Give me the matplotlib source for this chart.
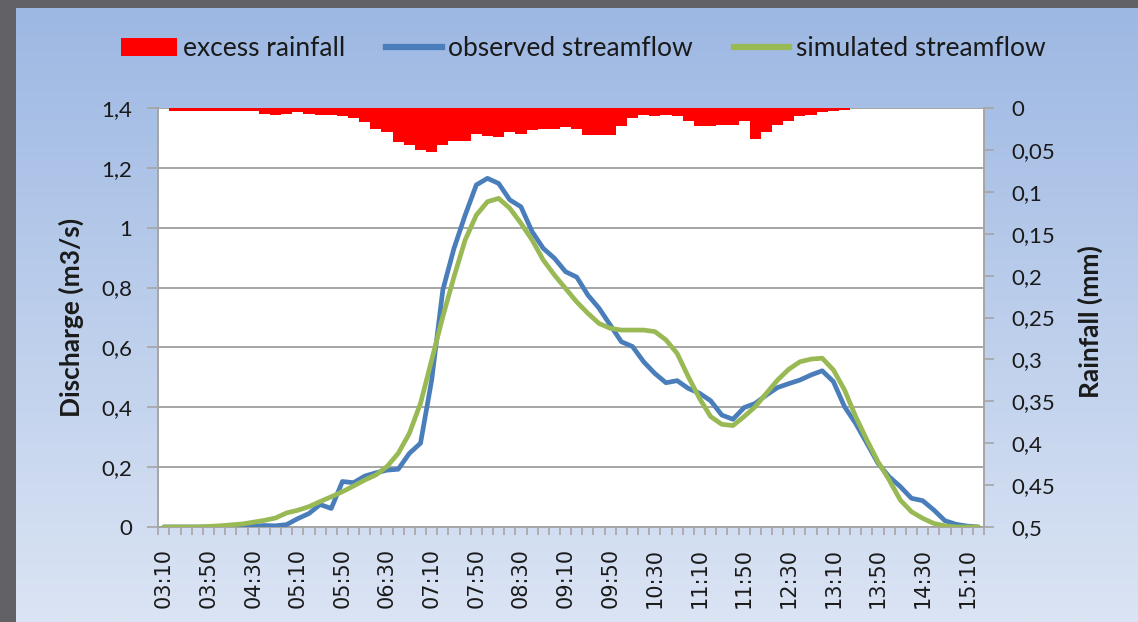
import numpy as np
import pandas as pd
import matplotlib
matplotlib.use('Agg')
import matplotlib.pyplot as plt
from matplotlib.patches import Patch
from matplotlib.lines import Line2D

# Data (10 minute steps from 03:10)
times = pd.date_range('2000-01-01 03:10', periods=74, freq='10min').strftime('%H:%M').tolist()

observed = [0, 0, 0, 0, 0, 0, 0, 0.002, 0.003, 0.005,
            0.004, 0.008, 0.028, 0.045, 0.075, 0.062, 0.152, 0.148, 0.170, 0.181,
            0.190, 0.193, 0.246, 0.280, 0.491, 0.792, 0.931, 1.042, 1.143, 1.165,
            1.148, 1.093, 1.070, 0.987, 0.931, 0.898, 0.853, 0.835, 0.775, 0.731,
            0.675, 0.619, 0.603, 0.552, 0.513, 0.482, 0.489, 0.463, 0.447, 0.422,
            0.374, 0.360, 0.399, 0.413, 0.441, 0.466, 0.479, 0.491, 0.508, 0.522,
            0.486, 0.402, 0.346, 0.280, 0.213, 0.168, 0.135, 0.096, 0.088, 0.057,
            0.021, 0.009, 0.003, 0]

simulated = [0, 0, 0, 0, 0.002, 0.004, 0.007, 0.010, 0.016, 0.022,
             0.030, 0.047, 0.056, 0.068, 0.085, 0.101, 0.118, 0.137, 0.157, 0.174,
             0.202, 0.246, 0.313, 0.413, 0.558, 0.703, 0.836, 0.959, 1.042, 1.087,
             1.098, 1.065, 1.015, 0.959, 0.892, 0.842, 0.797, 0.752, 0.714, 0.680,
             0.664, 0.658, 0.658, 0.658, 0.653, 0.625, 0.580, 0.502, 0.430, 0.369,
             0.343, 0.339, 0.369, 0.402, 0.447, 0.491, 0.527, 0.552, 0.561, 0.564,
             0.525, 0.458, 0.369, 0.291, 0.218, 0.157, 0.090, 0.051, 0.029, 0.012,
             0.004, 0, 0, 0]

rainfall = [0, 0.003, 0.003, 0.003, 0.003, 0.003, 0.003, 0.003, 0.003, 0.007,
            0.008, 0.007, 0.005, 0.007, 0.008, 0.008, 0.010, 0.012, 0.017, 0.025,
            0.029, 0.041, 0.044, 0.050, 0.053, 0.044, 0.039, 0.039, 0.031, 0.034,
            0.035, 0.029, 0.031, 0.026, 0.025, 0.025, 0.023, 0.025, 0.032, 0.032,
            0.032, 0.022, 0.012, 0.008, 0.0095, 0.008, 0.0095, 0.016, 0.022, 0.022,
            0.020, 0.020, 0.015, 0.037, 0.029, 0.020, 0.015, 0.010, 0.008, 0.005,
            0.003, 0.002, 0, 0, 0, 0, 0, 0, 0, 0,
            0, 0, 0, 0]

q_ticks = [0, 0.2, 0.4, 0.6, 0.8, 1.0, 1.2, 1.4]
q_labels = ['0', '0,2', '0,4', '0,6', '0,8', '1', '1,2', '1,4']
r_ticks = [0, 0.05, 0.1, 0.15, 0.2, 0.25, 0.3, 0.35, 0.4, 0.45, 0.5]
r_labels = ['0', '0,05', '0,1', '0,15', '0,2', '0,25', '0,3', '0,35', '0,4', '0,45', '0,5']

# Colours
blue = '#4A7EBB'
green = '#98B954'
red = '#FF0000'
grid_grey = '#A5A5A5'
txt = '#1A1A1A'
ui_font = ['Lato', 'DejaVu Sans']

# Figure and slide-like background
fig = plt.figure(figsize=(11.38, 6.22), dpi=100)
fig.patch.set_facecolor('#626166')

bg = fig.add_axes([16 / 1138, 0, 1 - 16 / 1138, 1 - 8 / 622], zorder=-10)
top_c = np.array([157, 184, 227]) / 255
bot_c = np.array([219, 228, 244]) / 255
grad = np.linspace(0, 1, 256)[:, None, None] * (bot_c - top_c) + top_c
bg.imshow(np.repeat(grad, 2, axis=1), aspect='auto', extent=[0, 1, 0, 1])
bg.axis('off')

# Main axes
ax = fig.add_axes([158.3 / 1138, 1 - 527 / 622, (984 - 158.3) / 1138, (527 - 108) / 622])
ax.set_facecolor('white')
x = np.arange(len(times))

ax.plot(x, observed, color=blue, lw=3.4, solid_joinstyle='round', solid_capstyle='round', zorder=3)
ax.plot(x, simulated, color=green, lw=3.4, solid_joinstyle='round', solid_capstyle='round', zorder=4)

ax.set_xlim(-0.5, len(times) - 0.5)
ax.set_ylim(0, 1.4)
ax.set_yticks(q_ticks)
ax.set_yticklabels(q_labels, family=ui_font, fontsize=16, color=txt)
ax.yaxis.grid(True, color=grid_grey, lw=1.4)
ax.set_axisbelow(True)

# Category axis: labels every 40 min, ticks on category boundaries
ax.set_xticks(x[::4])
ax.set_xticklabels(times[::4], rotation=90, fontsize=15, family='DejaVu Sans', color=txt)
ax.set_xticks(np.arange(len(times) + 1) - 0.5, minor=True)
ax.tick_params(axis='x', which='major', length=0, pad=15)
ax.tick_params(axis='x', which='minor', length=5.5, width=1.2, color=grid_grey, direction='out')
ax.tick_params(axis='y', length=8, width=1.2, color=grid_grey, pad=11)

for side in ['left', 'bottom', 'right']:
    ax.spines[side].set_color(grid_grey)
    ax.spines[side].set_linewidth(1.4)
ax.spines['top'].set_visible(False)

ax.set_ylabel('Discharge (m3/s)', family=ui_font, fontsize=19, fontweight='bold', color=txt)
ax.yaxis.set_label_coords(-0.09, 0.5)

# Secondary axis: rainfall hanging from top
ax2 = ax.twinx()
ax2.bar(x, rainfall, width=1.0, color=red, edgecolor='none', zorder=2)
ax2.set_ylim(0.5, 0)
ax2.set_yticks(r_ticks)
ax2.set_yticklabels(r_labels, family=ui_font, fontsize=16, color=txt)
ax2.tick_params(axis='y', length=7, width=1.2, color=grid_grey, pad=13)
ax2.set_xlim(-0.5, len(times) - 0.5)
for side in ['left', 'bottom', 'right', 'top']:
    ax2.spines[side].set_visible(False)
ax2.set_ylabel('Rainfall (mm)', family=ui_font, fontsize=19, fontweight='bold', color=txt)
ax2.yaxis.set_label_coords(1.114, 0.49)

# Legend across the top
handles = [Patch(facecolor=red, edgecolor='none'),
           Line2D([], [], color=blue, lw=4.5),
           Line2D([], [], color=green, lw=4.5)]
labels = ['excess rainfall', 'observed streamflow', 'simulated streamflow']
fig.legend(handles, labels, loc='center', bbox_to_anchor=(583 / 1138, 1 - 49 / 622), ncol=3,
           frameon=False, prop={'family': ui_font, 'size': 19}, labelcolor=txt,
           handlelength=2.12, handleheight=0.67, handletextpad=0.23, columnspacing=1.55)

fig.savefig('out.png', dpi=100)
